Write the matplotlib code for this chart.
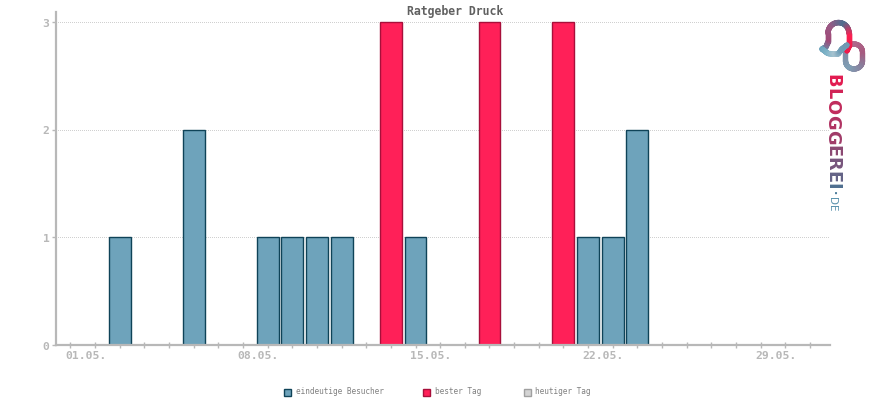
import numpy as np
import matplotlib
matplotlib.use("Agg")
import matplotlib.pyplot as plt
from matplotlib.patches import Rectangle
from matplotlib.collections import LineCollection
from matplotlib.colors import LinearSegmentedColormap

title = "Ratgeber Druck"
days = [3, 6, 9, 10, 11, 12, 14, 15, 18, 21, 22, 23, 24]
visits = [1, 2, 1, 1, 1, 1, 3, 1, 3, 3, 1, 1, 2]
best_days = [14, 18, 21]
label_days = [1, 8, 15, 22, 29]
label_texts = ["01.05.", "08.05.", "15.05.", "22.05.", "29.05."]
y_ticks = [0, 1, 2, 3]
legend_labels = ["eindeutige Besucher", "bester Tag", "heutiger Tag"]

W, H = 870, 400
fig = plt.figure(figsize=(W / 100, H / 100), dpi=100)
L, R, T, B = 56, 830, 12, 345
ax = fig.add_axes([L / W, 1 - B / H, (R - L) / W, (B - T) / H])
ax.set_xlim(0.42, 31.81)
ax.set_ylim(0, (345 - 12) / 107.6)
BLUE, BLUE_E = "#6ea3bb", "#0f4358"
RED, RED_E = "#ff2058", "#a80f3a"
GREY = "#b8b8b8"
MONO = "DejaVu Sans Mono"

for d, v in zip(days, visits):
    best = d in best_days
    ax.bar(d, v, width=0.89, color=RED if best else BLUE,
           edgecolor=RED_E if best else BLUE_E, linewidth=1, zorder=3)

ax.set_yticks(y_ticks)
ax.set_yticklabels([])
ax.set_xticks(range(1, 32))
ax.set_xticklabels([])
ax.tick_params(axis="y", length=3, width=1, color=GREY, direction="out")
ax.tick_params(axis="x", length=4, width=1, color=GREY, direction="inout")
ax.grid(axis="y", color="#d0d0d0", linestyle=(0, (1, 2)), linewidth=0.72, zorder=1, antialiased=False)
for s in ["top", "right"]:
    ax.spines[s].set_visible(False)
for s in ["left", "bottom"]:
    ax.spines[s].set_color(GREY)
    ax.spines[s].set_linewidth(1.6)
    ax.spines[s].set_zorder(4)

for t in y_ticks:
    ax.annotate(str(t), (0.42, t), xytext=(-7.2, -1.2), textcoords="offset points", ha="center", va="center",
                family=MONO, weight="bold", color=GREY, fontsize=8.2, annotation_clip=False)
for d, t in zip(label_days, label_texts):
    ax.annotate(t, (d, 0), xytext=(11, -8), textcoords="offset points", ha="center", va="center",
                family=MONO, weight="bold", color=GREY, fontsize=8.2, annotation_clip=False)

fig.text(455 / W, 1 - 12 / H, title, ha="center", va="center", family=MONO, weight="bold",
         color="#606060", fontsize=8.3)

# legend
for x, tx, fc, ec, lab in [(284, 296, BLUE, BLUE_E, legend_labels[0]),
                           (423, 435, RED, RED_E, legend_labels[1]),
                           (524, 535, "#d4d4d4", "#a0a0a0", legend_labels[2])]:
    fig.add_artist(Rectangle((x / W, 1 - 396 / H), 7 / W, 7 / H, transform=fig.transFigure,
                             facecolor=fc, edgecolor=ec, linewidth=1))
    fig.text(tx / W, 1 - 392 / H, lab, ha="left", va="center", family=MONO, color="#808080", fontsize=5.55)

# logo
lg = fig.add_axes([0, 0, 1, 1], facecolor="none")
lg.set_xlim(0, W)
lg.set_ylim(H, 0)
lg.axis("off")

def grad(pts, cols, lw):
    pts = np.array(pts, float)
    d = np.r_[0, np.cumsum(np.hypot(*np.diff(pts, axis=0).T))]
    t = np.linspace(0, d[-1], 160)
    xs, ys = np.interp(t, d, pts[:, 0]), np.interp(t, d, pts[:, 1])
    cm = LinearSegmentedColormap.from_list("g", cols)
    seg = [[(xs[i], ys[i]), (xs[i + 1], ys[i + 1])] for i in range(len(xs) - 1)]
    lg.add_collection(LineCollection(seg, colors=cm(np.linspace(0, 1, len(seg))), linewidths=lw, capstyle="round"))

# ring behind, bubble in front
th2 = np.radians(np.arange(180, 361, 15))
ring = ([(854 + 8.5 * np.cos(a), 52 + 8 * np.sin(a)) for a in th2]
        + [(854 + 8.5 * np.cos(a), 61 - 8 * np.sin(a)) for a in th2[::-1]])
ring.append(ring[0])
grad(ring, ["#7f8ea8", "#b06a8c", "#a85a80", "#8a7f9c", "#7fa0b6", "#7f8ea8"], 3.8)
th = np.radians(np.arange(180, 361, 15))
bub = [(822, 49), (826, 47), (828, 42)] + [(838.5 + 10.5 * np.cos(a), 33 + 10.5 * np.sin(a)) for a in th] + [(849, 46), (847, 51)]
grad(bub, ["#5f9ab4", "#a04a78", "#9a5a85", "#4f6f90", "#ff1f50", "#ef1b4c"], 3.9)
grad([(822, 49), (828, 53.5), (838, 54), (842, 49), (847, 45)], ["#6ea6be", "#7fb4c8", "#a8c4d0", "#6f9fb8", "#6f98b2"], 3.8)

letters = ["B", "L", "O", "G", "G", "E", "R", "E", "I"]
letter_y = [80.5, 93.2, 106.8, 121.8, 136.8, 150.8, 163.8, 176.8, 186.5]
cm = LinearSegmentedColormap.from_list("w", ["#e21b50", "#a03a68", "#4f6f90"])
for i, (c, y) in enumerate(zip(letters, letter_y)):
    lg.text(832.5, y, c, rotation=-90, ha="center", va="center", family="DejaVu Sans", weight="bold",
            fontsize=12.8, color=cm(i / 8))
lg.text(836, 193, ".", rotation=-90, ha="center", va="center", family="DejaVu Sans", weight="bold", fontsize=8, color="#4f7f9c")
lg.text(832.5, 204, "DE", rotation=-90, ha="center", va="center", family="DejaVu Sans", fontsize=7.5, color="#5b92ad")

fig.savefig("out.png", dpi=100)
